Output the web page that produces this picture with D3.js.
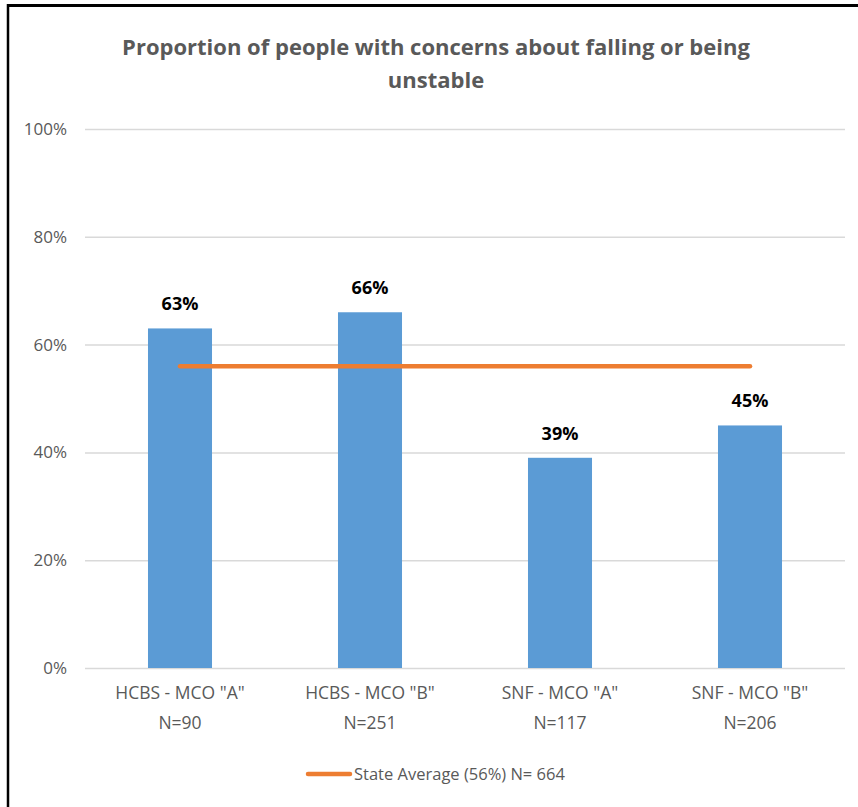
<!DOCTYPE html>
<html>
<head>
<meta charset="utf-8">
<script src="https://cdn.jsdelivr.net/npm/d3@7"></script>
<style>
  html, body { margin: 0; padding: 0; background: #fff; }
  svg { display: block; }
  text { font-family: "Open Sans", sans-serif; }
</style>
</head>
<body>
<div id="chart"></div>
<script>
const categories = ['HCBS - MCO "A"', 'HCBS - MCO "B"', 'SNF - MCO "A"', 'SNF - MCO "B"'];
const sampleSizes = ["N=90", "N=251", "N=117", "N=206"];
const values = [0.63, 0.66, 0.39, 0.45];
const stateAverage = 0.56;
const yTicks = [0, 0.2, 0.4, 0.6, 0.8, 1.0];
const titleLines = ["Proportion of people with concerns about falling or being", "unstable"];
const legendLabel = "State Average (56%) N= 664";

const W = 858, H = 807;
const svg = d3.select("#chart").append("svg").attr("width", W).attr("height", H);

// border (top and left visible in reference)
svg.append("line").attr("x1", 8).attr("x2", W).attr("y1", 5.5).attr("y2", 5.5)
  .attr("stroke", "#000").attr("stroke-width", 3);
svg.append("line").attr("x1", 8).attr("x2", 8).attr("y1", 4).attr("y2", H)
  .attr("stroke", "#000").attr("stroke-width", 2.5);

const plotLeft = 85, plotRight = 845, plotTop = 129, plotBottom = 668;

const x = d3.scaleBand().domain(categories).range([plotLeft, plotRight]).paddingInner(0.663).paddingOuter(0.3315);
const y = d3.scaleLinear().domain([0, 1]).range([plotBottom, plotTop]);

// title
const title = svg.append("text").attr("text-anchor", "middle").attr("fill", "#595959")
  .style("font-weight", "bold").style("font-size", "22px");
titleLines.forEach((t, i) => {
  title.append("tspan").attr("x", 436).attr("y", 55 + i * 33).text(t);
});

// gridlines
const grid = d3.axisLeft(y).tickValues(yTicks).tickSize(-(plotRight - plotLeft)).tickFormat("");
svg.append("g").attr("transform", `translate(${plotLeft},0)`).call(grid)
  .call(g => g.select(".domain").remove())
  .call(g => g.selectAll("line").attr("stroke", "#d9d9d9").attr("stroke-width", 1.5));

// y axis labels
const yAxis = d3.axisLeft(y).tickValues(yTicks).tickSize(0).tickPadding(18).tickFormat(d3.format(".0%"));
svg.append("g").attr("transform", `translate(${plotLeft},0)`).call(yAxis)
  .call(g => g.select(".domain").remove())
  .call(g => g.selectAll("text").attr("fill", "#595959").style("font-size", "17px")
    .style("font-family", '"Open Sans", sans-serif'));

// bars
svg.append("g").selectAll("rect").data(values).join("rect")
  .attr("x", (d, i) => x(categories[i]))
  .attr("width", x.bandwidth())
  .attr("y", d => y(d))
  .attr("height", d => y(0) - y(d))
  .attr("fill", "#5b9bd5");

// value labels
svg.append("g").selectAll("text").data(values).join("text")
  .attr("x", (d, i) => x(categories[i]) + x.bandwidth() / 2)
  .attr("y", d => y(d) - 18)
  .attr("text-anchor", "middle")
  .attr("fill", "#000")
  .style("font-weight", "bold").style("font-size", "18px")
  .text(d => d3.format(".0%")(d));

// state average line
const cx = c => x(c) + x.bandwidth() / 2;
svg.append("line")
  .attr("x1", cx(categories[0])).attr("x2", cx(categories[categories.length - 1]))
  .attr("y1", y(stateAverage)).attr("y2", y(stateAverage))
  .attr("stroke", "#ed7d31").attr("stroke-width", 4.5).attr("stroke-linecap", "round");

// x category labels
const xl = svg.append("g");
categories.forEach((c, i) => {
  const t = xl.append("text").attr("text-anchor", "middle").attr("fill", "#595959").style("font-size", "17.5px");
  t.append("tspan").attr("x", cx(c)).attr("y", 699).text(c);
  t.append("tspan").attr("x", cx(c)).attr("y", 729).text(sampleSizes[i]);
});

// legend
svg.append("line").attr("x1", 308).attr("x2", 350).attr("y1", 774).attr("y2", 774)
  .attr("stroke", "#ed7d31").attr("stroke-width", 4.5).attr("stroke-linecap", "round");
svg.append("text").attr("x", 354).attr("y", 780).attr("fill", "#595959").style("font-size", "16.5px").text(legendLabel);
</script>
</body>
</html>
